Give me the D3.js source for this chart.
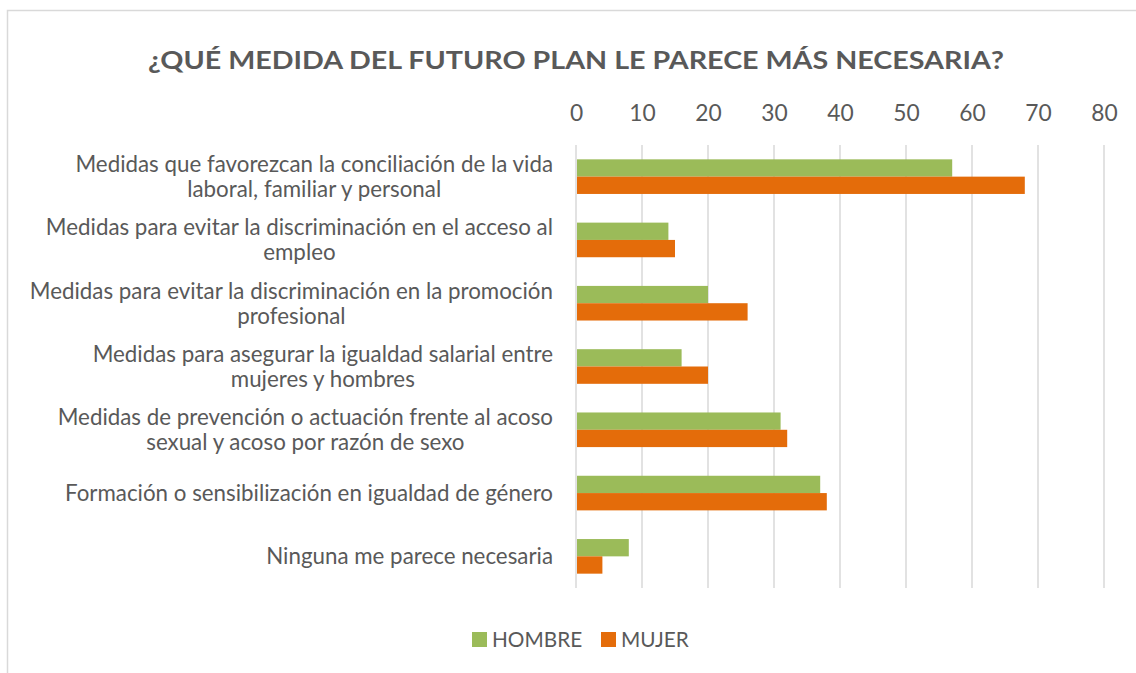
<!DOCTYPE html>
<meta charset="utf-8">
<style>
  body { margin: 0; background: #fff; }
  svg { display: block; font-family: Lato, "Open Sans", sans-serif; }
  .axis text { fill: #595959; font-family: Lato, sans-serif; }
  .cat { fill: #595959; }
  .grid line { stroke: #d9d9d9; stroke-width: 1.5; }
  .legend text { fill: #595959; }
</style>
<body>
<svg></svg>
<script src="https://d3js.org/d3.v7.min.js"></script>
<script>
var categories = [
  "Medidas que favorezcan la conciliación de la vida\nlaboral, familiar y personal",
  "Medidas para evitar la discriminación en el acceso al\nempleo",
  "Medidas para evitar la discriminación en la promoción\nprofesional",
  "Medidas para asegurar la igualdad salarial entre\nmujeres y hombres",
  "Medidas de prevención o actuación frente al acoso\nsexual y acoso por razón de sexo",
  "Formación o sensibilización en igualdad de género",
  "Ninguna me parece necesaria"
];
var hombre = [57, 14, 20, 16, 31, 37, 8];
var mujer  = [68, 15, 26, 20, 32, 38, 4];
var seriesNames = ["HOMBRE", "MUJER"];
var seriesColors = ["#9bbb59", "#e46c0a"];
var xTicks = [0, 10, 20, 30, 40, 50, 60, 70, 80];
var title = "¿QUÉ MEDIDA DEL FUTURO PLAN LE PARECE MÁS NECESARIA?";

var W = 1136, H = 673;
var margin = {top: 145, left: 576, right: 32, bottom: 85};

var svg = d3.select("svg").attr("width", W).attr("height", H);

// chart frame
svg.append("rect")
    .attr("x", 7.5).attr("y", 10.5)
    .attr("width", W + 20).attr("height", H + 20)
    .attr("fill", "#fff").attr("stroke", "#d9d9d9").attr("stroke-width", 1.5);

// work out a label size so the longest line is as wide as in the picture
var probe = svg.append("text").style("font-size", "20px").text(categories[0].split("\n")[0]);
var fs = 20 * 478 / probe.node().getComputedTextLength();
probe.remove();

svg.append("text")
    .attr("x", 576).attr("y", 69)
    .attr("text-anchor", "middle")
    .attr("fill", "#595959")
    .style("font-size", "25px").style("font-weight", "bold")
    .attr("textLength", 856).attr("lengthAdjust", "spacingAndGlyphs")
    .text(title);

var x = d3.scaleLinear()
    .domain([0, 80])
    .range([margin.left, W - margin.right]);

var y = d3.scaleBand()
    .domain(categories)
    .range([margin.top, H - margin.bottom])
    .paddingInner(0.453)
    .paddingOuter(0.2265);

var ySub = d3.scaleBand()
    .domain(seriesNames)
    .range([0, y.bandwidth()]);

svg.append("g")
    .attr("class", "grid")
    .selectAll("line")
    .data(xTicks)
    .join("line")
    .attr("x1", d => x(d)).attr("x2", d => x(d))
    .attr("y1", margin.top).attr("y2", H - margin.bottom);

var xAxis = svg.append("g")
    .attr("class", "axis")
    .attr("transform", "translate(0,121)")
    .call(d3.axisTop(x).tickValues(xTicks).tickSize(0).tickPadding(0));
xAxis.select(".domain").remove();
xAxis.selectAll("text").style("font-size", (fs * 1.02) + "px");

var rows = categories.map(function(c, i) {
  return {cat: c, values: [hombre[i], mujer[i]]};
});

var groups = svg.append("g").selectAll("g")
    .data(rows)
    .join("g")
    .attr("transform", d => "translate(0," + y(d.cat) + ")");

groups.selectAll("rect")
    .data(d => d.values.map((v, j) => ({name: seriesNames[j], value: v, color: seriesColors[j]})))
    .join("rect")
    .attr("x", x(0) + 1)
    .attr("y", d => ySub(d.name))
    .attr("width", d => x(d.value) - x(0) - 1)
    .attr("height", ySub.bandwidth())
    .attr("fill", d => d.color);

// category labels: block right-aligned, lines centred inside it
var lineH = 25, labelRight = 553;
svg.append("g").selectAll("text")
    .data(categories)
    .join("text")
    .attr("class", "cat")
    .style("font-size", fs + "px")
    .attr("text-anchor", "middle")
    .each(function(d) {
      var lines = d.split("\n");
      var cy = y(d) + y.bandwidth() / 2;
      var t = d3.select(this);
      var spans = lines.map(function(l, k) {
        return t.append("tspan")
          .attr("y", cy + (k - (lines.length - 1) / 2) * lineH)
          .attr("dy", "0.35em")
          .text(l);
      });
      var maxW = d3.max(spans, s => s.node().getComputedTextLength());
      spans.forEach(s => s.attr("x", labelRight - maxW / 2));
    });

// legend
var legend = svg.append("g").attr("class", "legend");
var legX = [472, 601];
seriesNames.forEach(function(n, i) {
  legend.append("rect")
      .attr("x", legX[i]).attr("y", 632)
      .attr("width", 15).attr("height", 15)
      .attr("fill", seriesColors[i]);
  legend.append("text")
      .attr("x", legX[i] + 20).attr("y", 640)
      .attr("dy", "0.35em")
      .style("font-size", (fs * 0.93) + "px")
      .text(n);
});
</script>
</body>
